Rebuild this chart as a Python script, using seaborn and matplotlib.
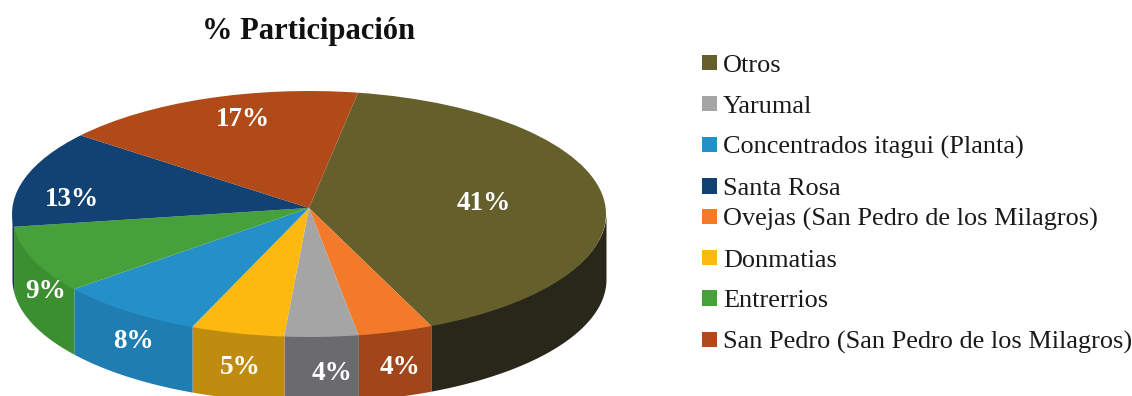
import numpy as np
import matplotlib
matplotlib.use("Agg")
import matplotlib.pyplot as plt
import seaborn as sns

# ---- data (clockwise slice order) ----
slice_names = ["Otros", "Ovejas (San Pedro de los Milagros)", "Yarumal", "Donmatias",
               "Concentrados itagui (Planta)", "Entrerrios", "Santa Rosa",
               "San Pedro (San Pedro de los Milagros)"]
shares = [40.6, 4.1, 4.0, 5.1, 8.1, 8.8, 12.7, 16.6]
top_colors = ["#65602B", "#F47A2B", "#A5A5A5", "#FDB90F", "#2590C8", "#46A13A", "#124173", "#B04A18"]
side_colors = ["#29261A", "#A0461A", "#6B6A6E", "#C08C10", "#1F7DB2", "#3C8F31", "#0E3259", "#86380F"]
legend_top = ["Otros", "Yarumal", "Concentrados itagui (Planta)", "Santa Rosa"]
legend_bottom = ["Ovejas (San Pedro de los Milagros)", "Donmatias", "Entrerrios",
                 "San Pedro (San Pedro de los Milagros)"]
title_text = "% Participación"

sns.set_theme(style="white")
plt.rcParams["font.family"] = ["Liberation Serif", "DejaVu Serif"]

W, H = 1132, 396
CX, CY, RX, RY = 309, 214, 297, 123
DEPTH = 65 / RY
HUB_SHIFT = 6 / RY
START = 80.5  # degrees counter-clockwise from +x where the first slice begins

fig = plt.figure(figsize=(W / 100, H / 100), dpi=100, facecolor="white")
ax = fig.add_axes([0, 0, 1, 1])
palette = sns.color_palette(top_colors)
wedges, _, autotexts = ax.pie(shares, colors=palette, startangle=START, counterclock=False,
                              radius=1, center=(0, 0), autopct="%.0f%%",
                              wedgeprops=dict(linewidth=0, zorder=3),
                              textprops=dict(color="white", fontweight="bold", fontsize=19.5))
ax.set_aspect("auto")
ax.set_xlim((0 - CX) / RX, (W - CX) / RX)
ax.set_ylim((CY - H) / RY, CY / RY)
ax.axis("off")

# move the hub up a little: the reference has a slight perspective
for w in wedges:
    v = w.get_path().vertices
    v[(v == 0).all(axis=1)] += (0, HUB_SHIFT)

# side wall for the slices on the front half
edges = START - np.cumsum([0] + shares) / sum(shares) * 360
for a0, a1, col in zip(edges[:-1], edges[1:], side_colors):
    for shift in (0, -360):
        hi_s, lo_s = min(a0 - shift, 360), max(a1 - shift, 180)
        if hi_s > lo_s:
            t = np.radians(np.linspace(lo_s, hi_s, 80))
            ax.fill_between(np.cos(t), np.sin(t) + 0.012, np.sin(t) - DEPTH, color=col, linewidth=0, zorder=2)

# slice labels
label_px = [(484, 204), (400, 367), (332, 374), (240, 368), (133, 342), (46, 292), (72, 199), (243, 120)]
for t, (px, py) in zip(autotexts, label_px):
    t.set_position(((px - CX) / RX, (CY - py) / RY))
    t.set_ha("center"); t.set_va("center"); t.set_zorder(5)

ax.text(0.0, (CY - 31) / RY, title_text, ha="center", va="center", fontsize=22,
        fontweight="bold", color="#111111")

# legends: two groups, the gap between them is smaller in the reference
by_name = dict(zip(slice_names, wedges))
FS = 18.9
def add_legend(names, top_px):
    leg = fig.legend([by_name[n] for n in names], names, loc="upper left",
                     bbox_to_anchor=(702 / W, 1 - top_px / H), bbox_transform=fig.transFigure,
                     frameon=False, fontsize=FS, borderpad=0, borderaxespad=0,
                     handlelength=0.57, handleheight=0.53, handletextpad=0.23,
                     labelspacing=0.71, labelcolor="#1a1a1a")
    return leg
add_legend(legend_top, 55)
add_legend(legend_bottom, 208)

fig.savefig("out.png", dpi=100)
